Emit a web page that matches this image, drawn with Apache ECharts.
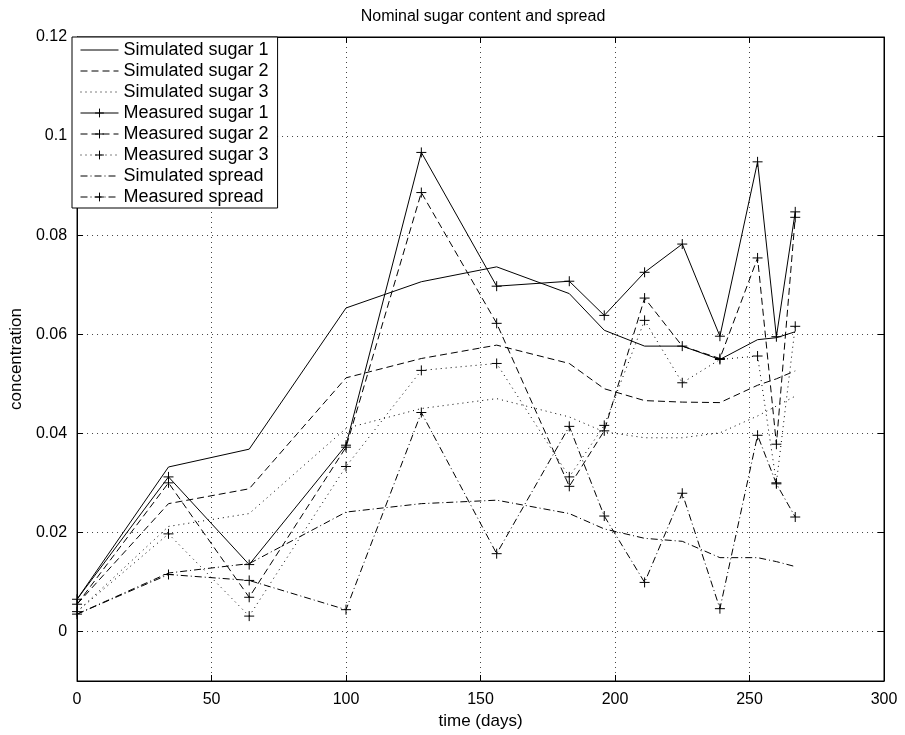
<!DOCTYPE html>
<html>
<head>
<meta charset="utf-8">
<title>Nominal sugar content and spread</title>
<script src="https://cdn.jsdelivr.net/npm/echarts@6/dist/echarts.min.js"></script>
<style>
  html, body { margin: 0; padding: 0; background: #fff; }
  #chart { width: 905px; height: 735px; }
</style>
</head>
<body>
<div id="chart"></div>
<script>
// sampling days (x axis)
const days = [0, 34, 64, 100, 128, 156, 183, 196, 211, 225, 239, 253, 260, 267]

// simulated curves
const simSugar1 = [0.0065, 0.0332, 0.0368, 0.0653, 0.0706, 0.0736, 0.0682, 0.0608, 0.0576, 0.0576, 0.0549, 0.0589, 0.0593, 0.0605]
const simSugar2 = [0.0055, 0.0258, 0.0288, 0.0512, 0.0551, 0.0578, 0.0541, 0.0490, 0.0466, 0.0463, 0.0462, 0.0497, 0.0510, 0.0526]
const simSugar3 = [0.0040, 0.0212, 0.0238, 0.0410, 0.0450, 0.0470, 0.0433, 0.0403, 0.0391, 0.0391, 0.0401, 0.0435, 0.0455, 0.0475]
const simSpread = [0.0035, 0.0118, 0.0137, 0.0241, 0.0258, 0.0265, 0.0238, 0.0207, 0.0188, 0.0182, 0.0149, 0.0149, 0.0141, 0.0131]

// measured values
const measSugar1 = [0.0065, 0.0312, 0.0135, 0.0376, 0.0967, 0.0697, 0.0707, 0.0638, 0.0725, 0.0782, 0.0596, 0.0948, 0.0595, 0.0847]
const measSugar2 = [0.0055, 0.0300, 0.0069, 0.0372, 0.0886, 0.0622, 0.0293, 0.0405, 0.0673, 0.0576, 0.0551, 0.0754, 0.0378, 0.0836]
const measSugar3 = [0.0040, 0.0197, 0.0031, 0.0333, 0.0527, 0.0541, 0.0312, 0.0416, 0.0628, 0.0502, 0.0549, 0.0556, 0.0300, 0.0616]
const measSpread = [0.0035, 0.0115, 0.0103, 0.0044, 0.0442, 0.0157, 0.0414, 0.0233, 0.0099, 0.0279, 0.0046, 0.0396, 0.0298, 0.0231]

// axis ticks
const xTicks = { min: 0, max: 300, interval: 50 }
const yTicks = { min: -0.01, max: 0.12 }

const font = 'Liberation Sans, Arial, Helvetica, sans-serif'
const plus = 'path://M0,5L10,5M5,0L5,10'

// matlab style line dashes
const dash = {
  solid: 'solid',
  dashed: [7, 4],
  dotted: [1, 4],
  dashdot: [7, 3, 1, 3]
}

function pairs (ys) {
  return days.map((d, i) => [d, ys[i]])
}

function makeSeries (name, ys, type, marker) {
  return {
    name: name,
    type: 'line',
    data: pairs(ys),
    symbol: marker ? plus : 'none',
    symbolSize: 10,
    showSymbol: !!marker,
    showAllSymbol: true,
    animation: false,
    silent: true,
    lineStyle: { color: '#000', width: 1, type: type },
    itemStyle: {
      color: 'rgba(0,0,0,0)',
      borderColor: marker ? '#000' : 'rgba(0,0,0,0)',
      borderWidth: 1
    }
  }
}

const chart = echarts.init(document.getElementById('chart'))

const axisCommon = {
  axisLine: { show: true, onZero: false, lineStyle: { color: '#000' } },
  axisTick: { show: true, inside: true, length: 6, lineStyle: { color: '#000' } }
}

const option = {
  backgroundColor: '#fff',
  animation: false,
  title: {
    text: 'Nominal sugar content and spread',
    left: 478,
    top: 4,
    textAlign: 'center',
    textStyle: { fontFamily: font, fontSize: 16, fontWeight: 'normal', color: '#000' }
  },
  grid: {
    left: 72,
    right: 21,
    top: 37,
    bottom: 54,
    show: true,
    borderColor: '#000',
    borderWidth: 1,
    backgroundColor: '#fff'
  },
  legend: {
    orient: 'vertical',
    left: 72,
    top: 37,
    padding: [4, 9, 2, 8],
    itemWidth: 38,
    itemHeight: 11,
    itemGap: 3,
    backgroundColor: '#fff',
    borderColor: '#000',
    borderWidth: 1,
    borderRadius: 0,
    selectedMode: false,
    lineStyle: { width: 1, color: '#000' },
    itemStyle: { borderWidth: 1 },
    textStyle: { fontFamily: font, fontSize: 18, color: '#000', lineHeight: 18 },
    data: ['Simulated sugar 1', 'Simulated sugar 2', 'Simulated sugar 3',
      'Measured sugar 1', 'Measured sugar 2', 'Measured sugar 3',
      'Simulated spread', 'Measured spread']
  },
  xAxis: [Object.assign({
    type: 'value',
    min: xTicks.min,
    max: xTicks.max,
    interval: xTicks.interval,
    name: 'time (days)',
    nameLocation: 'middle',
    nameGap: 30,
    nameTextStyle: { fontFamily: font, fontSize: 17, color: '#000' },
    axisLabel: { fontFamily: font, fontSize: 16, color: '#000', margin: 11 },
    splitLine: { show: true, lineStyle: { color: '#444', type: dash.dotted, width: 1 } }
  }, axisCommon), Object.assign({
    type: 'value',
    position: 'top',
    min: xTicks.min,
    max: xTicks.max,
    interval: xTicks.interval,
    axisLabel: { show: false },
    splitLine: { show: false }
  }, axisCommon)],
  yAxis: [Object.assign({
    type: 'value',
    min: yTicks.min,
    max: yTicks.max,
    splitNumber: 6,
    name: 'concentration',
    nameLocation: 'middle',
    nameGap: 52,
    nameTextStyle: { fontFamily: font, fontSize: 17, color: '#000' },
    axisLabel: { fontFamily: font, fontSize: 16, color: '#000', margin: 10, showMinLabel: false },
    splitLine: { show: true, lineStyle: { color: '#444', type: dash.dotted, width: 1 } }
  }, axisCommon), Object.assign({
    type: 'value',
    position: 'right',
    min: yTicks.min,
    max: yTicks.max,
    splitNumber: 6,
    axisLabel: { show: false },
    splitLine: { show: false }
  }, axisCommon)],
  series: [
    makeSeries('Simulated sugar 1', simSugar1, dash.solid, false),
    makeSeries('Simulated sugar 2', simSugar2, dash.dashed, false),
    makeSeries('Simulated sugar 3', simSugar3, dash.dotted, false),
    makeSeries('Measured sugar 1', measSugar1, dash.solid, true),
    makeSeries('Measured sugar 2', measSugar2, dash.dashed, true),
    makeSeries('Measured sugar 3', measSugar3, dash.dotted, true),
    makeSeries('Simulated spread', simSpread, dash.dashdot, false),
    makeSeries('Measured spread', measSpread, dash.dashdot, true)
  ]
}

chart.setOption(option)
</script>
</body>
</html>
